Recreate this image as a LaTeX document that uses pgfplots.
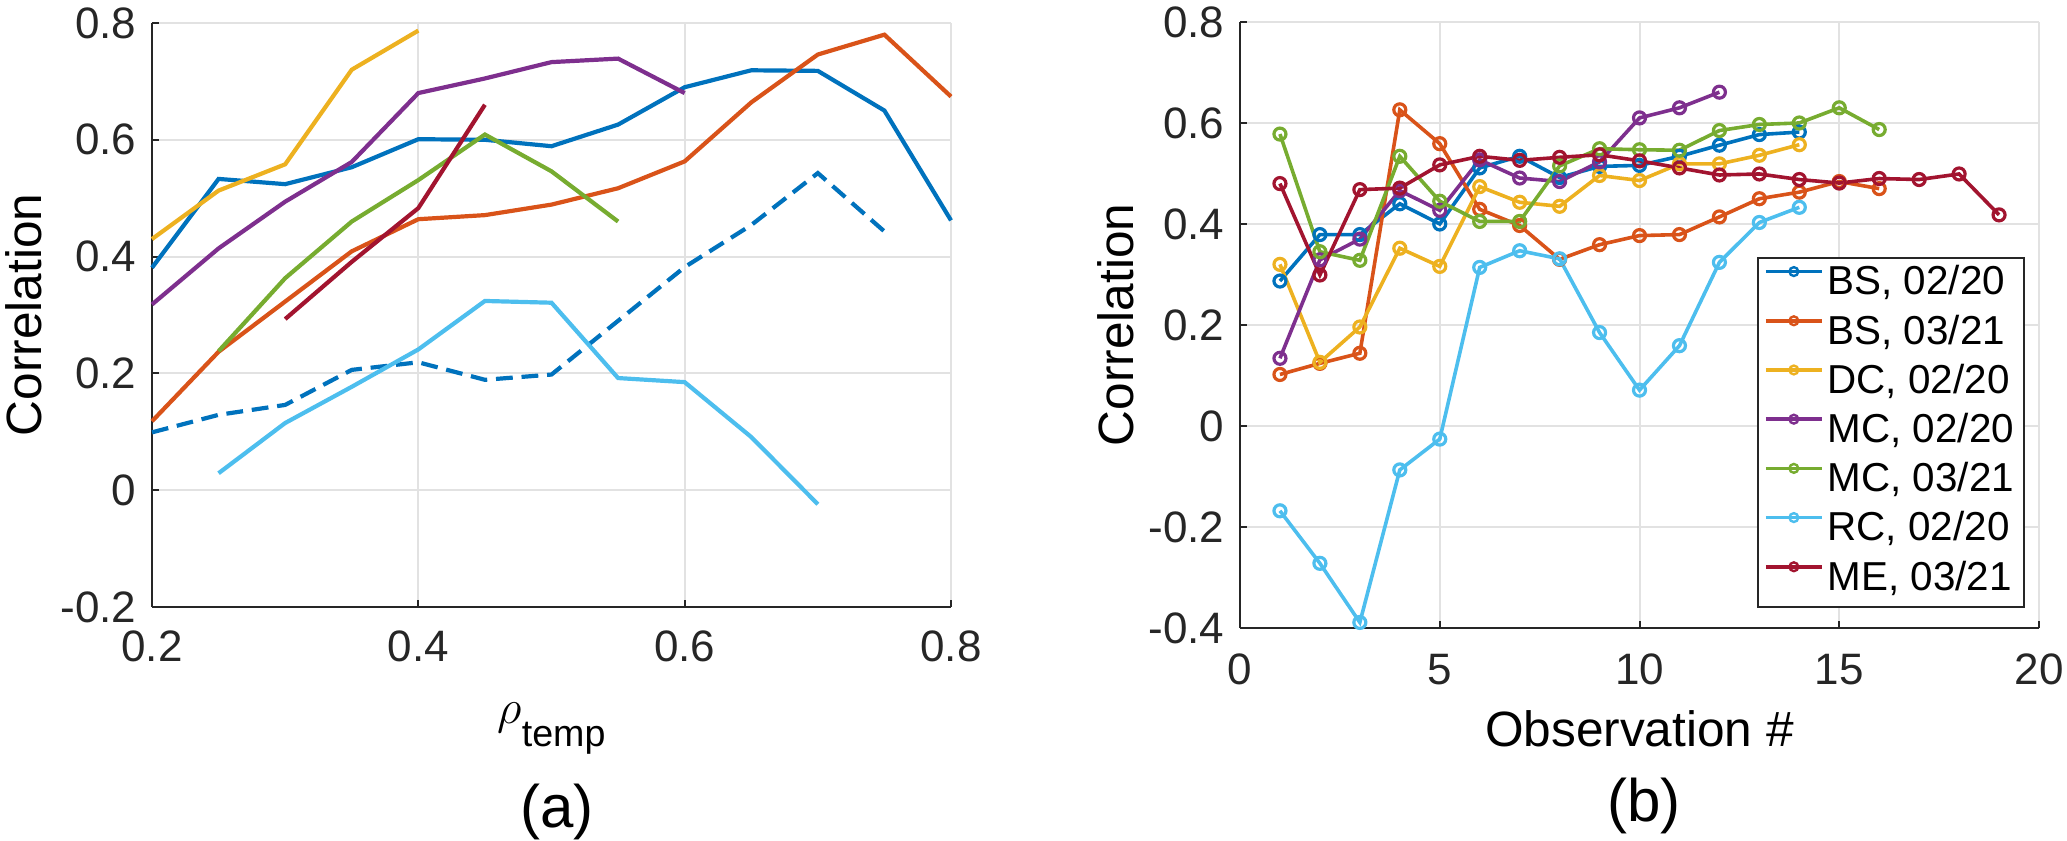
\documentclass[border=0pt]{standalone}
\usepackage{fontspec}
\setmainfont{Liberation Sans}
\usepackage{pgfplots}
\pgfplotsset{compat=1.18}
\definecolor{c1}{rgb}{0,0.447,0.741}
\definecolor{c2}{rgb}{0.850,0.325,0.098}
\definecolor{c3}{rgb}{0.929,0.694,0.125}
\definecolor{c4}{rgb}{0.494,0.184,0.556}
\definecolor{c5}{rgb}{0.466,0.674,0.188}
\definecolor{c6}{rgb}{0.301,0.745,0.933}
\definecolor{c7}{rgb}{0.635,0.078,0.184}
\definecolor{axc}{rgb}{0.15,0.15,0.15}
\definecolor{gridc}{rgb}{0.885,0.885,0.885}
\pgfplotsset{
  common/.style={
    scale only axis,
    axis lines*=left,
    axis line style={-, draw=axc, line width=0.5pt},
    tick align=inside,
    major tick length=1.75pt,
    tick style={draw=axc, line width=0.5pt},
    grid=major,
    major grid style={draw=gridc, line width=0.5pt},
    /pgf/number format/assume math mode=true,
    tick label style={font=\fontsize{11}{13}\selectfont, text=axc},
    yticklabel style={anchor=east, inner xsep=0pt, xshift=-3.7pt},
    label style={font=\fontsize{12.4}{14}\selectfont, text=black},
    clip=false,
  },
  ln/.style={line width=1.05pt, #1},
  mk/.style={line width=0.9pt, #1, mark=o, mark size=1.5pt, mark options={solid, line width=0.8pt}},
}
\begin{document}
\begin{tikzpicture}
\useasboundingbox (0,0) rectangle (516.75pt,210.25pt);
% ---------------- (a) ----------------
\begin{axis}[common,
  at={(38pt,58.5pt)}, anchor=south west,
  width=199.75pt, height=146pt,
  xmin=0.2, xmax=0.8, ymin=-0.2, ymax=0.8,
  xtick={0.2,0.4,0.6,0.8},
  ytick={-0.2,0,0.2,0.4,0.6,0.8},
  xticklabel style={anchor=base, yshift=-13.75pt},
  xlabel={$\rho$\raisebox{-5.6pt}{\fontsize{9.4}{10}\selectfont temp}},
  xlabel style={at={(axis description cs:0.5,-0.2003)}, anchor=base},
  ylabel={Correlation},
  ylabel style={at={(axis description cs:-0.160,0.5)}, anchor=center},
]
\addplot[ln=c1] coordinates {(0.20,0.381) (0.25,0.533) (0.30,0.524) (0.35,0.553) (0.40,0.601) (0.45,0.600) (0.50,0.589) (0.55,0.626) (0.60,0.690) (0.65,0.719) (0.70,0.718) (0.75,0.650) (0.80,0.462)};
\addplot[ln=c1, dash pattern=on 4.2pt off 2.2pt] coordinates {(0.20,0.099) (0.25,0.129) (0.30,0.146) (0.35,0.206) (0.40,0.219) (0.45,0.189) (0.50,0.198) (0.55,0.290) (0.60,0.382) (0.65,0.454) (0.70,0.543) (0.75,0.443)};
\addplot[ln=c2] coordinates {(0.20,0.118) (0.25,0.237) (0.30,0.323) (0.35,0.409) (0.40,0.464) (0.45,0.471) (0.50,0.489) (0.55,0.517) (0.60,0.563) (0.65,0.664) (0.70,0.746) (0.75,0.780) (0.80,0.674)};
\addplot[ln=c3] coordinates {(0.20,0.430) (0.25,0.513) (0.30,0.558) (0.35,0.720) (0.40,0.787)};
\addplot[ln=c4] coordinates {(0.20,0.318) (0.25,0.414) (0.30,0.494) (0.35,0.562) (0.40,0.680) (0.45,0.705) (0.50,0.733) (0.55,0.739) (0.60,0.680)};
\addplot[ln=c5] coordinates {(0.25,0.238) (0.30,0.363) (0.35,0.460) (0.40,0.531) (0.45,0.609) (0.50,0.546) (0.55,0.460)};
\addplot[ln=c6] coordinates {(0.25,0.029) (0.30,0.115) (0.35,0.177) (0.40,0.241) (0.45,0.324) (0.50,0.321) (0.55,0.192) (0.60,0.185) (0.65,0.091) (0.70,-0.024)};
\addplot[ln=c7] coordinates {(0.30,0.293) (0.35,0.391) (0.40,0.483) (0.45,0.660)};
\node[anchor=base, font=\fontsize{15}{17}\selectfont] at (axis description cs:0.507,-0.377) {(a)};
\end{axis}
% ---------------- (b) ----------------
\begin{axis}[common,
  at={(310pt,53.25pt)}, anchor=south west,
  width=199.75pt, height=151.5pt,
  xmin=0, xmax=20, ymin=-0.4, ymax=0.8,
  xtick={0,5,10,15,20},
  ytick={-0.4,-0.2,0,0.2,0.4,0.6,0.8},
  xticklabel style={anchor=base, yshift=-14.25pt},
  xlabel={Observation \#},
  xlabel style={at={(axis description cs:0.5,-0.196)}, anchor=base},
  ylabel={Correlation},
  ylabel style={at={(axis description cs:-0.156,0.5)}, anchor=center},
  legend style={at={(0.9825,0.033)}, anchor=south east, draw=axc, line width=0.5pt,
    inner xsep=1.5pt, inner ysep=0.6pt, font=\fontsize{10.1}{12}\selectfont,
    nodes={inner xsep=1pt, inner ysep=1.2pt, text height=7.5pt, text depth=2.4pt},
    row sep=0pt, column sep=0pt},
  legend cell align=left,
  legend image code/.code={\draw[#1, line width=0.9pt] (0pt,3.3pt) -- (14pt,3.3pt);
    \draw[#1, line width=0.6pt, solid] (7pt,3.3pt) circle[radius=1.1pt];},
]
\addplot[mk=c1] coordinates {(1,0.287) (2,0.379) (3,0.379) (4,0.440) (5,0.400) (6,0.511) (7,0.534) (8,0.492) (9,0.514) (10,0.516) (11,0.534) (12,0.556) (13,0.577) (14,0.582)};
\addlegendentry{BS, 02/20}
\addplot[mk=c2] coordinates {(1,0.102) (2,0.124) (3,0.144) (4,0.626) (5,0.559) (6,0.429) (7,0.397) (8,0.330) (9,0.359) (10,0.377) (11,0.379) (12,0.414) (13,0.450) (14,0.463) (15,0.484) (16,0.470)};
\addlegendentry{BS, 03/21}
\addplot[mk=c3] coordinates {(1,0.320) (2,0.126) (3,0.196) (4,0.352) (5,0.316) (6,0.474) (7,0.443) (8,0.435) (9,0.496) (10,0.486) (11,0.519) (12,0.519) (13,0.536) (14,0.557)};
\addlegendentry{DC, 02/20}
\addplot[mk=c4] coordinates {(1,0.134) (2,0.329) (3,0.370) (4,0.466) (5,0.427) (6,0.527) (7,0.491) (8,0.484) (9,0.523) (10,0.610) (11,0.630) (12,0.661)};
\addlegendentry{MC, 02/20}
\addplot[mk=c5] coordinates {(1,0.578) (2,0.345) (3,0.328) (4,0.534) (5,0.445) (6,0.405) (7,0.405) (8,0.515) (9,0.549) (10,0.547) (11,0.546) (12,0.585) (13,0.597) (14,0.600) (15,0.630) (16,0.587)};
\addlegendentry{MC, 03/21}
\addplot[mk=c6] coordinates {(1,-0.168) (2,-0.272) (3,-0.389) (4,-0.087) (5,-0.026) (6,0.314) (7,0.347) (8,0.331) (9,0.185) (10,0.071) (11,0.159) (12,0.324) (13,0.403) (14,0.433)};
\addlegendentry{RC, 02/20}
\addplot[mk=c7] coordinates {(1,0.480) (2,0.299) (3,0.468) (4,0.471) (5,0.517) (6,0.534) (7,0.526) (8,0.532) (9,0.537) (10,0.525) (11,0.511) (12,0.497) (13,0.499) (14,0.488) (15,0.481) (16,0.490) (17,0.488) (18,0.499) (19,0.418)};
\addlegendentry{ME, 03/21}
\node[anchor=base, font=\fontsize{15}{17}\selectfont] at (axis description cs:0.506,-0.320) {(b)};
\end{axis}
\end{tikzpicture}
\end{document}
